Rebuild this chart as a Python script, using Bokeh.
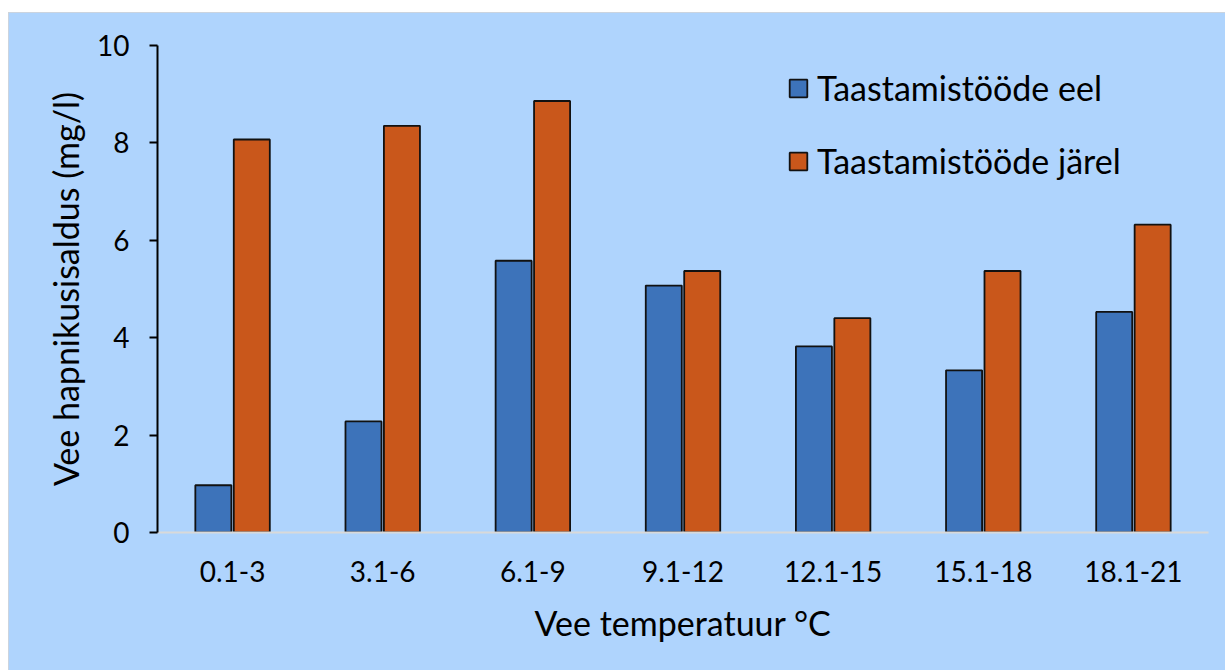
from bokeh.plotting import figure
from bokeh.models import ColumnDataSource, FactorRange, Range1d, Legend, LegendItem, FixedTicker, Spacer
from bokeh.layouts import column, row
from bokeh.transform import dodge
from bokeh.embed import file_html
from bokeh.resources import INLINE

categories = ["0.1-3", "3.1-6", "6.1-9", "9.1-12", "12.1-15", "15.1-18", "18.1-21"]
before = [0.97, 2.28, 5.58, 5.07, 3.82, 3.33, 4.53]
after = [8.07, 8.35, 8.86, 5.37, 4.40, 5.37, 6.32]
series_names = ["Taastamistööde eel", "Taastamistööde järel"]
y_ticks = [0, 2, 4, 6, 8, 10]

FONT = "Lato"
BG = "#AFD4FD"
BLUE = "#3D73BA"
ORANGE = "#C9571B"

src = ColumnDataSource(dict(cat=categories, before=before, after=after))

y_min, y_max = y_ticks[0], y_ticks[-1]

p = figure(
    x_range=FactorRange(*categories, range_padding=0),
    y_range=Range1d(y_min, y_max),
    width=1217, height=658,
    output_backend="svg", toolbar_location=None,
    min_border_left=149, min_border_right=17, min_border_top=33, min_border_bottom=138,
)
p.background_fill_color = BG
p.border_fill_color = BG
p.outline_line_color = None
p.grid.grid_line_color = None
p.styles = {"background-color": BG, "outline": "1px solid #D4D4D4", "outline-offset": "-1px"}

# plot-area background drawn as a glyph (robust against svg clears), spans whole range
p.quad(left=[0], right=[len(categories)], bottom=[y_min], top=[y_max],
       fill_color=BG, line_color=None)

r1 = p.vbar(x=dodge("cat", -0.128, range=p.x_range), top="before", width=0.24, source=src,
            fill_color=BLUE, line_color="#111111", line_width=1.8)
r2 = p.vbar(x=dodge("cat", 0.128, range=p.x_range), top="after", width=0.24, source=src,
            fill_color=ORANGE, line_color="#111111", line_width=1.8)

# y axis
ya = p.yaxis[0]
ya.ticker = FixedTicker(ticks=y_ticks)
ya.axis_line_color = "black"
ya.axis_line_width = 2
ya.major_tick_line_color = "black"
ya.major_tick_line_width = 2
ya.major_tick_out = 8
ya.major_tick_in = 0
ya.minor_tick_line_color = None
ya.major_label_text_font = FONT
ya.major_label_text_font_size = "28px"
ya.major_label_text_color = "black"
ya.major_label_standoff = 20
ya.axis_label = "Vee hapnikusisaldus (mg/l)"
ya.axis_label_text_font = FONT
ya.axis_label_text_font_size = "34px"
ya.axis_label_text_font_style = "normal"
ya.axis_label_text_color = "black"
ya.axis_label_standoff = 8

# x axis
xa = p.xaxis[0]
xa.axis_line_color = "#D9D9D9"
xa.axis_line_width = 2
xa.major_tick_line_color = None
xa.minor_tick_line_color = None
xa.major_label_text_font = FONT
xa.major_label_text_font_size = "28px"
xa.major_label_text_color = "black"
xa.major_label_standoff = 22
xa.axis_label = "Vee temperatuur °C"
xa.axis_label_text_font = FONT
xa.axis_label_text_font_size = "34px"
xa.axis_label_text_font_style = "normal"
xa.axis_label_text_color = "black"
xa.axis_label_standoff = 17

legend = Legend(
    items=[LegendItem(label=series_names[0], renderers=[r1]),
           LegendItem(label=series_names[1], renderers=[r2])],
    location=(630, 351),
    orientation="vertical",
    glyph_width=22, glyph_height=22,
    label_text_font=FONT, label_text_font_size="34px", label_text_color="black",
    label_standoff=8, spacing=32, padding=0, margin=0,
    border_line_alpha=0, background_fill_alpha=0,
)
p.add_layout(legend, "center")

layout = column(Spacer(height=12, width=1225),
                row(Spacer(width=8, height=658), p, spacing=0),
                spacing=0)
open("out.html", "w").write(file_html(layout, INLINE))
